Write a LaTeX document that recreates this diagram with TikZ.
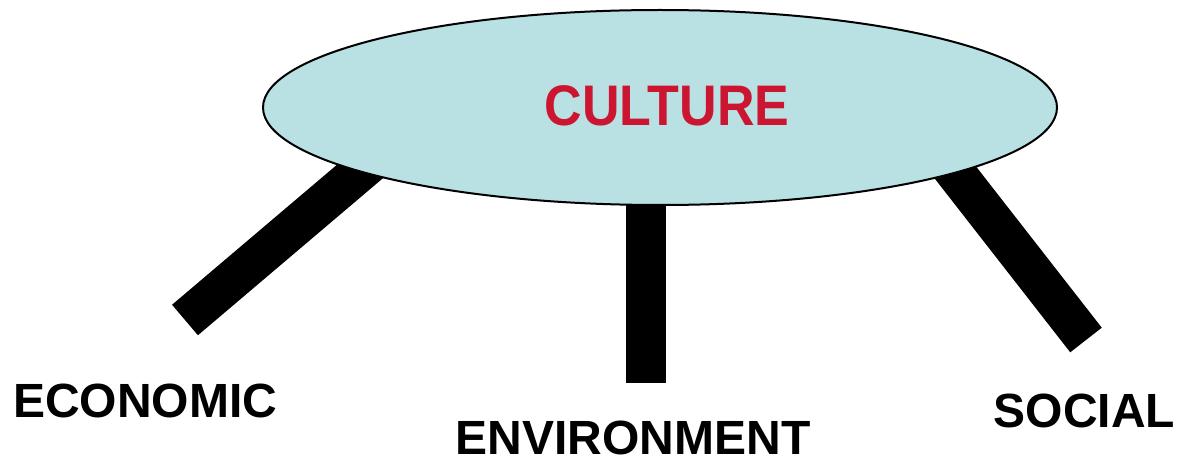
\documentclass[tikz,border=0pt]{standalone}
\usepackage{fontspec}
\setmainfont{Liberation Sans}
\usetikzlibrary{shapes.geometric}
\definecolor{tablefill}{HTML}{B9E0E3}
\definecolor{culturered}{HTML}{CC1530}
\tikzset{
  leg/.style={line width=40pt, line cap=butt, black},
  label/.style={anchor=base, inner sep=0pt, font=\fontsize{48}{56}\selectfont\bfseries},
  top/.style={ellipse, draw=black, line width=2pt, fill=tablefill, minimum width=794pt, minimum height=195pt, inner sep=0pt}
}
\begin{document}
\begin{tikzpicture}[x=1pt,y=-1pt]
\useasboundingbox (0,0) rectangle (1178,457);
% legs
\coordinate (l1a) at (185,320);
\coordinate (l1b) at (400,137.5);
\coordinate (l2a) at (646,383);
\coordinate (l2b) at (646,150);
\coordinate (l3a) at (1086,340);
\coordinate (l3b) at (930,140);
\draw[leg] (l1a) -- (l1b);
\draw[leg] (l2a) -- (l2b);
\draw[leg] (l3a) -- (l3b);
% table top
\node[top] (table) at (660,107.5) {};
\node[anchor=base, inner sep=0pt, text=culturered, font=\fontsize{52}{60}\selectfont\bfseries] (culture) at (667,126) {\scalebox{1}[1.1]{CULTURE}};
% labels
\node[label] (economic) at (145,417) {ECONOMIC};
\node[label] (environment) at (633,454) {ENVIRONMENT};
\node[label] (social) at (1084.5,427) {SOCIAL};
\end{tikzpicture}
\end{document}
